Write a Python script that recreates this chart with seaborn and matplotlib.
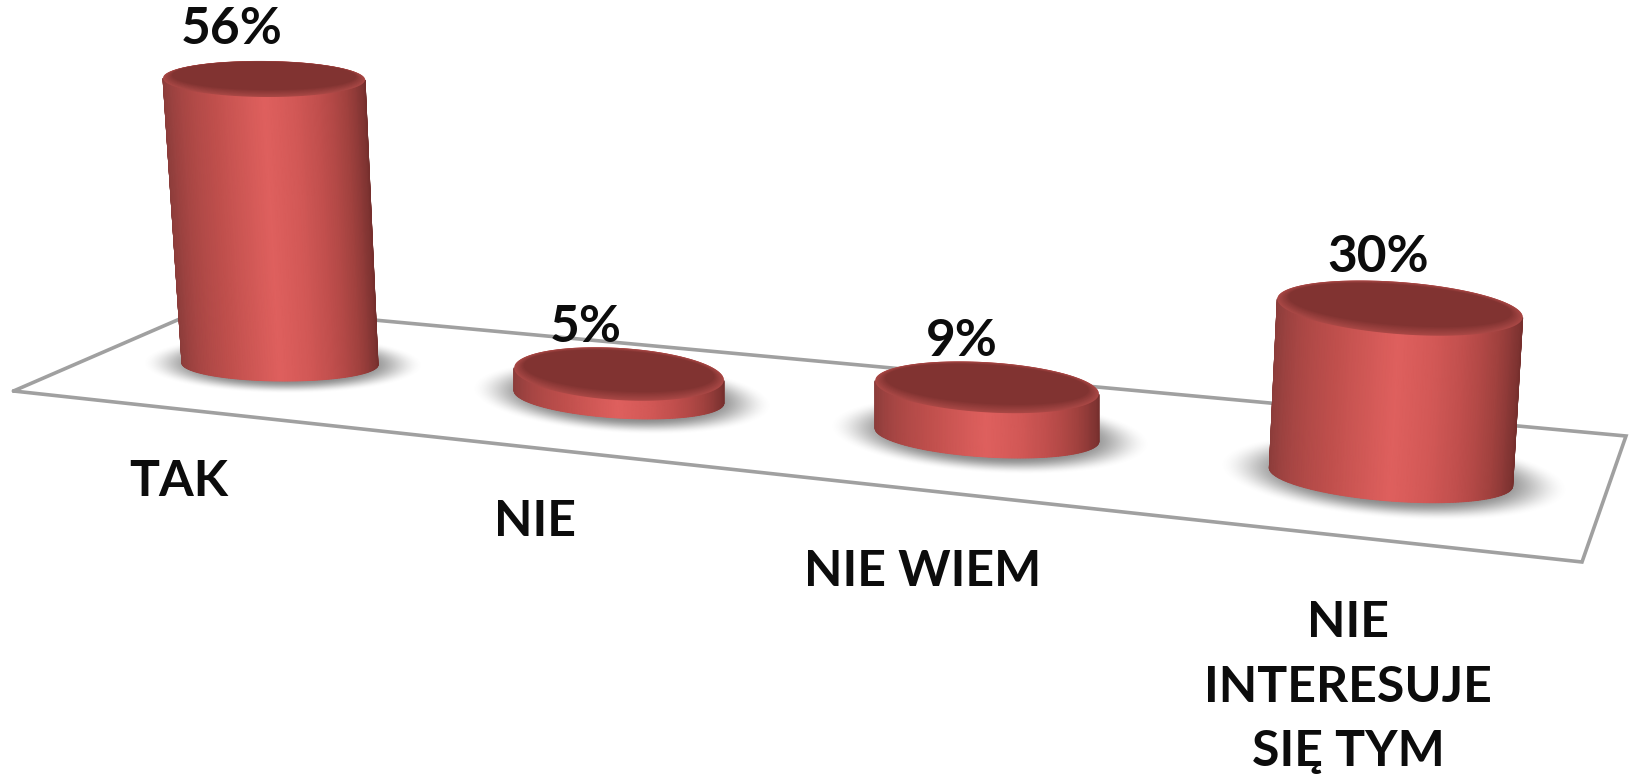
import numpy as np, pandas as pd
import matplotlib
matplotlib.use("Agg")
import matplotlib.pyplot as plt
from matplotlib.colors import LinearSegmentedColormap
from matplotlib.patches import Polygon
import seaborn as sns

# --- data
categories = ["TAK", "NIE", "NIE WIEM", "NIE\nINTERESUJE\nSIĘ TYM"]
values = [56, 5, 9, 30]

# --- perspective layout (pixels of the figure)
W, H = 1629, 775
base_x = [280, 619, 987, 1391]
base_y = [364, 397, 435, 477]
px_per_pct = [5.09, 4.6, 5.3, 5.63]
lean_x = [-16, 0, 0, 9]
rx_bottom = [98, 105, 112, 122]
rx_top = [101, 105, 112, 123]
ry_bottom = [17, 21, 22, 24]
ry_top = [18, 26, 25, 26]
tilt_deg = [0.5, 3.5, 3.5, 4.4]
val_xy = [(232, 30), (586, 327), (962, 342), (1378, 257)]
cat_xy = [(179, 482), (535, 522), (923, 571), (1348, 687)]
floor_xy = [(13.5, 391), (212, 305), (1626, 436), (1582, 562)]

sns.set_theme(style="white")
plt.rcParams["font.family"] = ["Lato", "DejaVu Sans"]
fig = plt.figure(figsize=(W / 100, H / 100), dpi=100, facecolor="white")
ax = fig.add_axes([0, 0, 1, 1])

side_cmap = LinearSegmentedColormap.from_list("side", [
    (0.00, "#8a3c3a"), (0.10, "#95403e"), (0.20, "#a84644"), (0.33, "#bf4f4c"),
    (0.50, "#df605e"), (0.60, "#d25856"), (0.70, "#bd4d4b"), (0.80, "#a2423f"),
    (0.90, "#853634"), (1.00, "#762f2d")])
RIM = np.array(matplotlib.colors.to_rgb("#a84745"))
TOP = np.array(matplotlib.colors.to_rgb("#813331"))


def Y(py):
    return H - np.asarray(py, dtype=float)


def ell(cx, cy, a, b, th, t):
    """Tilted ellipse in pixel coordinates (y down)."""
    c, s = np.cos(th), np.sin(th)
    return cx + a * np.cos(t) * c - b * np.sin(t) * s, cy + a * np.cos(t) * s + b * np.sin(t) * c


df = pd.DataFrame({"x": base_x, "h": [v * k for v, k in zip(values, px_per_pct)], "cat": categories})
sns.barplot(data=df, x="x", y="h", native_scale=True, color="#c0504d", saturation=1,
            width=100, ax=ax, zorder=3)

t_back = np.linspace(np.pi, 2 * np.pi, 90)
t_front = np.linspace(np.pi, 0, 121)
for i, bar in enumerate(list(ax.patches)):
    th = np.deg2rad(tilt_deg[i])
    bx, by = base_x[i], base_y[i]
    tx, ty = bx + lean_x[i], by - bar.get_height()
    # shadow on the floor
    gx, gy = np.meshgrid(np.arange(bx - 220, bx + 220), np.arange(by - 90, by + 90))
    dx, dy = gx - (bx + 3), gy - by
    c, s = np.cos(th), np.sin(th)
    d = np.hypot((dx * c + dy * s) / (rx_bottom[i] * 1.44), (-dx * s + dy * c) / (ry_bottom[i] * 1.75))
    e = np.clip((1 - d) / 0.42, 0, 1)
    rgba = np.zeros(d.shape + (4,))
    rgba[..., :3] = 0.38
    rgba[..., 3] = 0.72 * e * e * (3 - 2 * e)
    ax.imshow(rgba, extent=(gx.min(), gx.max(), Y(gy.max()), Y(gy.min())), origin="upper",
              zorder=2, aspect="auto", interpolation="bilinear")
    # silhouette of the cylinder, used to clip the library's bar
    ax_, ay_ = ell(tx, ty, rx_top[i], ry_top[i], th, t_back)
    bx_, by_ = ell(bx, by, rx_bottom[i], ry_bottom[i], th, np.linspace(0, np.pi, 121))
    verts = np.column_stack([np.r_[ax_, bx_], Y(np.r_[ay_, by_])])
    bar.set_x(min(verts[:, 0]))
    bar.set_width(np.ptp(verts[:, 0]))
    bar.set_y(Y(by + ry_bottom[i] + 5))
    bar.set_height(np.ptp(verts[:, 1]) + 5)
    bar.set_clip_path(Polygon(verts, closed=True, transform=ax.transData))
    # shaded wall
    xt, yt = ell(tx, ty, rx_top[i], ry_top[i], th, t_front)
    xb, yb = ell(bx, by, rx_bottom[i], ry_bottom[i], th, t_front)
    u = np.linspace(0, 1, t_front.size)
    ax.pcolormesh(np.vstack([xb, xt]), Y(np.vstack([yb, yt])), np.vstack([u, u]),
                  shading="gouraud", cmap=side_cmap, vmin=0, vmax=1, zorder=4, rasterized=True)
    # top face, a bevelled rim fading into the dark face
    t_all = np.linspace(0, 2 * np.pi, 181)
    steps = 9
    for j, f in enumerate(np.linspace(0, 1, steps)):
        col = RIM + (TOP - RIM) * f
        a = rx_top[i] * (1 - 0.09 * f)
        b = ry_top[i] * (1 - 0.22 * f)
        x, y = ell(tx, ty - 3 * f, a, b, th, t_all)
        ax.fill(x, Y(y), color=col, lw=0, zorder=5 + j * 0.01)
    ax.text(val_xy[i][0], Y(val_xy[i][1]), f"{values[i]}%", ha="center", va="center",
            fontsize=37, fontweight="bold", color="#0c0c0c", zorder=8)
    ax.text(cat_xy[i][0], Y(cat_xy[i][1]), categories[i], ha="center", va="center",
            fontsize=36, fontweight="bold", color="#0c0c0c", linespacing=1.52, zorder=8)

fx, fy = zip(*floor_xy)
ax.plot(list(fx) + [fx[0]], Y(list(fy) + [fy[0]]), color="#a0a0a0", lw=2.6, zorder=1,
        solid_joinstyle="miter")

ax.set_xlim(0, W)
ax.set_ylim(0, H)
ax.set_axis_off()
fig.savefig("out.png", dpi=100, facecolor="white")
